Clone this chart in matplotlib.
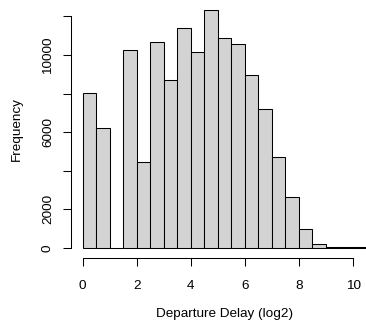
import numpy as np
import matplotlib
matplotlib.use("Agg")
import matplotlib.pyplot as plt

# histogram of log2 departure delay, bins of width 0.5
bin_edges = [0.0, 0.5, 1.0, 1.5, 2.0, 2.5, 3.0, 3.5, 4.0, 4.5, 5.0,
             5.5, 6.0, 6.5, 7.0, 7.5, 8.0, 8.5, 9.0, 9.5, 10.0, 10.5]
counts = [8040, 6230, 0, 10240, 4430, 10680, 8680, 11370, 10140, 12350,
          10880, 10550, 8950, 7190, 4730, 2620, 980, 180, 30, 30, 60]
xticks = [0, 2, 4, 6, 8, 10]
yticks = [0, 2000, 4000, 6000, 8000, 10000, 12000]
ytick_labels = ["0", "2000", "", "6000", "", "10000", ""]

plt.rcParams['font.family'] = ['Liberation Sans', 'DejaVu Sans']
fs = 9.7

fig = plt.figure(figsize=(3.66, 3.22), dpi=100)
W, H = 366.0, 322.0
left, right, bottom, top = 71.3, 377.9, 257.5, 0.0
ax = fig.add_axes([left / W, (H - bottom) / H, (right - left) / W, (bottom - top) / H])

edges = np.array(bin_edges)
ax.bar(edges[:-1], counts, width=np.diff(edges), align='edge',
       color='#d3d3d3', edgecolor='black', linewidth=0.75)

ax.set_xlim(-0.42, 10.92)
ax.set_ylim(-494, 12844)

for s in ['top', 'right']:
    ax.spines[s].set_visible(False)
ax.spines['left'].set_bounds(0, 12000)
ax.spines['bottom'].set_bounds(0, 10)
for s in ['left', 'bottom']:
    ax.spines[s].set_linewidth(0.75)

ax.set_xticks(xticks)
ax.set_xticklabels([str(t) for t in xticks], fontsize=fs)
ax.set_yticks(yticks)
ax.set_yticklabels(ytick_labels, fontsize=fs, rotation=90, va='center')
ax.tick_params(axis='both', length=5.5, width=0.75)
ax.tick_params(axis='x', pad=11)
ax.tick_params(axis='y', pad=7)

fig.text(224.6 / W, 1 - 314 / H, "Departure Delay (log2)", fontsize=fs,
         ha='center', va='center')
fig.text(17 / W, 1 - 128.8 / H, "Frequency", fontsize=fs, rotation=90,
         ha='center', va='center')

fig.savefig("out.png", dpi=100)
